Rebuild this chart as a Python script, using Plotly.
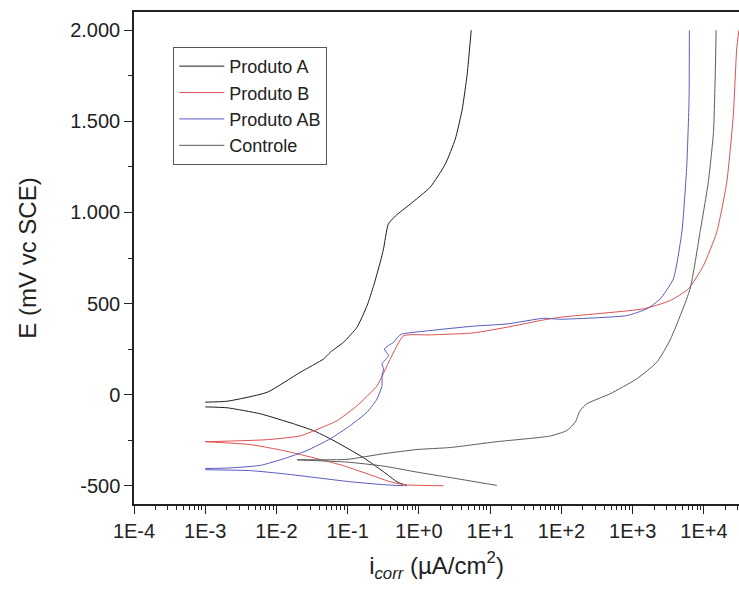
import plotly.graph_objects as go

# ---- data (i in µA/cm², E in mV vs SCE) ----
a_cat_i = [1.0e-3, 2.03e-3, 5.94e-3, 1.74e-2, 3.33e-2, 5.70e-2, 0.167, 0.318, 0.491, 0.679]
a_cat_e = [-67, -72, -105, -160, -198, -242, -346, -423, -478, -500]
a_an_i = [1.0e-3, 2.03e-3, 7.38e-3, 2.16e-2, 4.59e-2, 5.70e-2, 8.75e-2, 0.135, 0.187, 0.231,
          0.286, 0.318, 0.371, 0.465, 0.755, 1.44, 2.34, 3.23, 4.05, 4.75, 5.41]
a_an_e = [-41, -36, 13, 123, 196, 233, 288, 370, 489, 598,
          727, 800, 936, 980, 1046, 1139, 1265, 1402, 1567, 1759, 2000]

b_cat_i = [1.0e-3, 4.31e-3, 1.26e-2, 3.71e-2, 8.75e-2, 0.187, 0.395, 0.608, 2.21]
b_cat_e = [-258, -274, -307, -351, -390, -434, -478, -494, -500]
b_an_i = [1.0e-3, 2.03e-3, 7.38e-3, 2.16e-2, 4.59e-2, 7.08e-2, 0.135, 0.258, 0.395, 0.608,
          1.44, 5.83, 17.1, 56.0, 95.9, 1413, 3350, 6040, 9820, 15100, 20900, 25800, 28800, 31000]
b_an_e = [-258, -255, -247, -226, -176, -143, -61, 49, 196, 323,
          328, 339, 370, 410, 425, 471, 516, 580, 708, 891, 1165, 1530, 1896, 2000]

ab_cat_i = [1.0e-3, 4.31e-3, 1.26e-2, 3.71e-2, 0.109, 0.318, 0.608]
ab_cat_e = [-412, -417, -434, -456, -478, -494, -500]
ab_an_i = [1.0e-3, 2.03e-3, 5.94e-3, 1.26e-2, 2.69e-2, 5.70e-2, 0.109, 0.187, 0.258, 0.303,
           0.303, 0.318, 0.303, 0.375, 0.326, 0.441, 0.518, 0.578, 1.44, 5.83,
           17.1, 56.0, 95.9, 826, 1580, 2420, 3720, 4890, 5740, 6180, 6240]
ab_an_e = [-405, -403, -388, -352, -306, -242, -169, -96, -23, 50,
           105, 142, 169, 214, 251, 288, 321, 333, 352, 376,
           388, 419, 414, 434, 471, 525, 635, 891, 1256, 1622, 2000]

c_cat_i = [1.95e-2, 9.77e-2, 0.318, 0.938, 2.75, 12.4]
c_cat_e = [-358, -370, -392, -425, -455, -498]
c_an_i = [1.95e-2, 9.77e-2, 0.318, 0.938, 2.75, 12.4, 69.3, 119, 156, 183,
          227, 482, 1140, 2180, 3350, 6380, 8810, 11500, 13600, 14500, 14800]
c_an_e = [-357, -355, -324, -301, -290, -258, -227, -197, -151, -87,
          -50, 5, 87, 178, 300, 580, 891, 1165, 1439, 1804, 2000]

series_names = ["Produto A", "Produto B", "Produto AB", "Controle"]
series_colors = ["#1e1e1e", "#dd5050", "#5a5ac0", "#5c5c5c"]

x_tickvals = [1e-4, 1e-3, 1e-2, 1e-1, 1e0, 1e1, 1e2, 1e3, 1e4]
x_ticktext = ["1E-4", "1E-3", "1E-2", "1E-1", "1E+0", "1E+1", "1E+2", "1E+3", "1E+4"]
y_tickvals = [-500, 0, 500, 1000, 1500, 2000]
y_ticktext = ["-500", "0", "500", "1.000", "1.500", "2.000"]

curves = [
    (a_cat_i, a_cat_e, a_an_i, a_an_e),
    (b_cat_i, b_cat_e, b_an_i, b_an_e),
    (ab_cat_i, ab_cat_e, ab_an_i, ab_an_e),
    (c_cat_i, c_cat_e, c_an_i, c_an_e),
]

FONT = "Liberation Sans, Arial, sans-serif"
fig = go.Figure()
for (ci, ce, ai, ae), name, col in zip(curves, series_names, series_colors):
    xs = list(reversed(ci)) + [None] + list(ai)
    ys = list(reversed(ce)) + [None] + list(ae)
    fig.add_trace(go.Scatter(x=xs, y=ys, mode="lines", name=name,
                             line=dict(color=col, width=1, shape="spline", smoothing=0.5),
                             connectgaps=False))

minor_x = [m * 10.0 ** k for k in range(-4, 5) for m in range(2, 10)]

fig.update_layout(
    width=739, height=590,
    margin=dict(l=134, r=0, t=12, b=86),
    paper_bgcolor="white", plot_bgcolor="white",
    font=dict(family=FONT, size=19, color="#222"),
    showlegend=True,
    legend=dict(x=0.065, y=0.929, xanchor="left", yanchor="top",
                bordercolor="#555", borderwidth=1, bgcolor="white",
                font=dict(size=18, color="#222"), itemwidth=45, tracegroupgap=0),
    xaxis=dict(type="log", range=[-4, 4.492],
               tickvals=x_tickvals, ticktext=x_ticktext,
               ticks="outside", ticklen=8, tickwidth=1.2, tickcolor="#222",
               minor=dict(tickvals=minor_x, ticks="outside", ticklen=4, tickcolor="#222", tickwidth=1),
               showline=True, linecolor="#222", linewidth=1.5, mirror=True,
               showgrid=False, zeroline=False,
               tickfont=dict(size=20),
               title=dict(text="i<sub><i>corr</i></sub> (µA/cm<sup>2</sup>)", font=dict(size=24),
                          standoff=16)),
    yaxis=dict(range=[-600, 2100],
               tickvals=y_tickvals, ticktext=y_ticktext,
               ticks="outside", ticklen=8, tickwidth=1.2, tickcolor="#222",
               minor=dict(dtick=250, tick0=-750, ticks="outside", ticklen=4, tickcolor="#222", tickwidth=1),
               showline=True, linecolor="#222", linewidth=1.5, mirror=False,
               showgrid=False, zeroline=False,
               tickfont=dict(size=20),
               title=dict(text="E (mV vc SCE)", font=dict(size=24), standoff=27)),
)

fig.write_html("out.html")
